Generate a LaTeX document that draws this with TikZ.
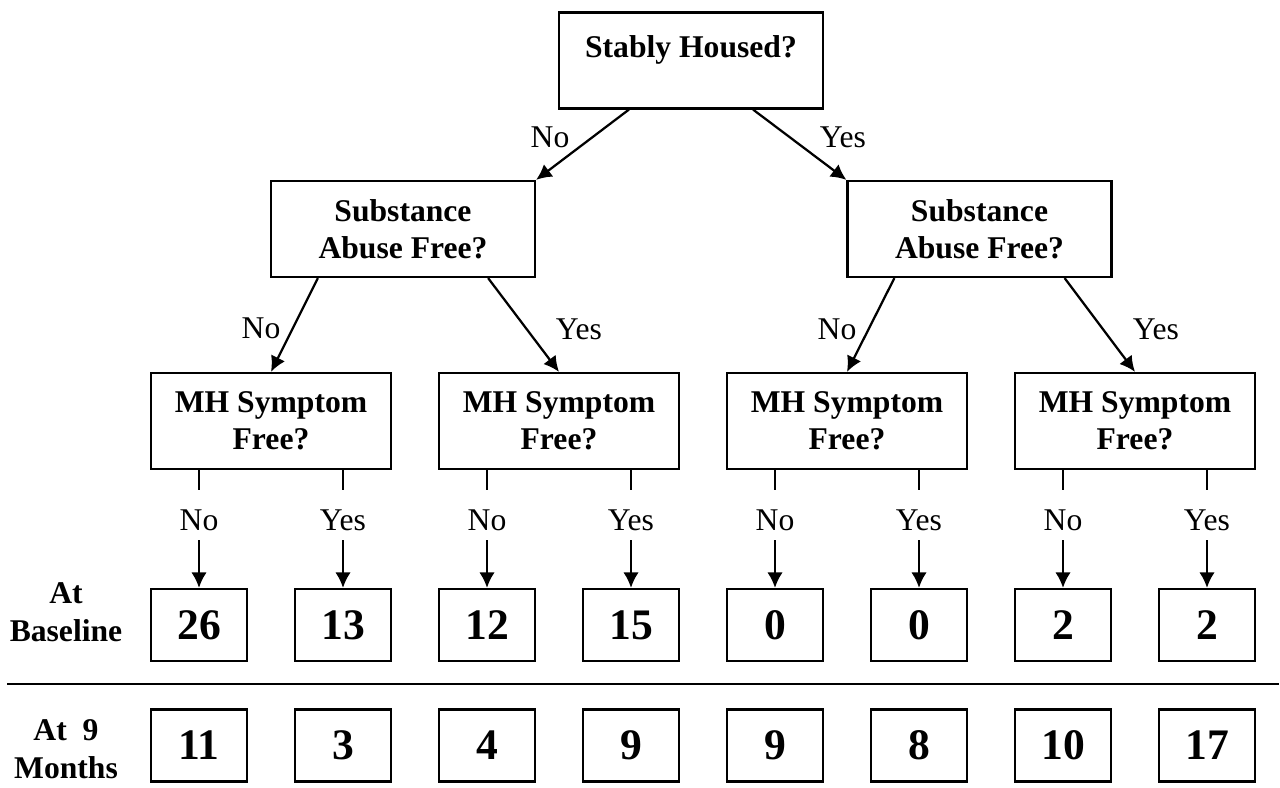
\documentclass[tikz,border=0pt]{standalone}
\usepackage{fontspec}
\setmainfont{Liberation Serif}
\usetikzlibrary{arrows.meta}

\tikzset{
  qbox/.style={draw, align=center, inner sep=0pt, minimum height=2.4cm,
    font=\fontsize{22.5}{26.3}\selectfont\bfseries},
  numbox/.style={draw, inner sep=0pt, minimum width=2.4cm, minimum height=1.8cm,
    font=\fontsize{31}{36}\selectfont\bfseries},
  ans/.style={font=\fontsize{22.5}{26.3}\selectfont},
  leafans/.style={ans, inner sep=0pt, text height=0.975cm, text depth=0.225cm},
  rowlab/.style={align=center, inner sep=0pt, font=\fontsize{22.5}{27}\selectfont\bfseries}
}

\begin{document}
\begin{tikzpicture}[>={Latex[length=11pt,width=11pt]}, line width=1.6pt]
\useasboundingbox (0,0) rectangle (32,19.675);

% question boxes
\node[qbox, minimum width=6.6cm] (house) at (17.275,18.1625) {Stably Housed?\\[-6pt]~};
\node[qbox, minimum width=6.6cm] (subL) at (10.075,13.95) {Substance\\Abuse Free?};
\node[qbox, minimum width=6.6cm] (subR) at (24.4875,13.95) {Substance\\Abuse Free?};

\foreach \i/\x in {1/6.775, 2/13.975, 3/21.175, 4/28.375}
   \node[qbox, minimum width=6cm] (mh\i) at (\x,9.15) {MH Symptom\\Free?};

% branches
\draw[->] ([xshift=1.775cm]house.south west) -- (subL.north east);
\draw[->] ([xshift=-1.775cm]house.south east) -- (subR.north west);
\draw[->] ([xshift=1.2cm]subL.south west) -- (mh1.north);
\draw[->] ([xshift=-1.2cm]subL.south east) -- (mh2.north);
\draw[->] ([xshift=1.2cm]subR.south west) -- (mh3.north);
\draw[->] ([xshift=-1.2cm]subR.south east) -- (mh4.north);

\node[ans] (noTop) at (13.75,16.25) {No};  \node[ans] (yesTop) at (21.075,16.25) {Yes};
\node[ans] (noL) at (6.525,11.475) {No};   \node[ans] (yesL) at (14.475,11.45) {Yes};
\node[ans] (noR) at (20.925,11.45) {No};   \node[ans] (yesR) at (28.9,11.45) {Yes};

% leaves
\foreach \i/\x/\a/\b/\lab in {1/4.975/26/11/No, 2/8.575/13/3/Yes, 3/12.175/12/4/No,
   4/15.775/15/9/Yes, 5/19.375/0/9/No, 6/22.975/0/8/Yes, 7/26.575/2/10/No, 8/30.175/2/17/Yes}
{
   \pgfmathtruncatemacro\m{(\i+1)/2}
   \node[numbox] (base\i) at (\x,4.05) {\a};
   \node[numbox] (nine\i) at (\x,1.0375) {\b};
   \node[leafans] (ans\i) at (\x,6.8) {\lab};
   \draw (mh\m.south -| ans\i) -- (ans\i.north);
   \draw[->] (ans\i) -- (base\i);
}

\draw (0.175,2.575) -- (31.975,2.575);

\node[rowlab] (baseLab) at (1.65,4.375) {At\\Baseline};
\node[rowlab] (nineLab) at (1.65,0.95) {At\ \ 9\\Months};

\end{tikzpicture}
\end{document}
